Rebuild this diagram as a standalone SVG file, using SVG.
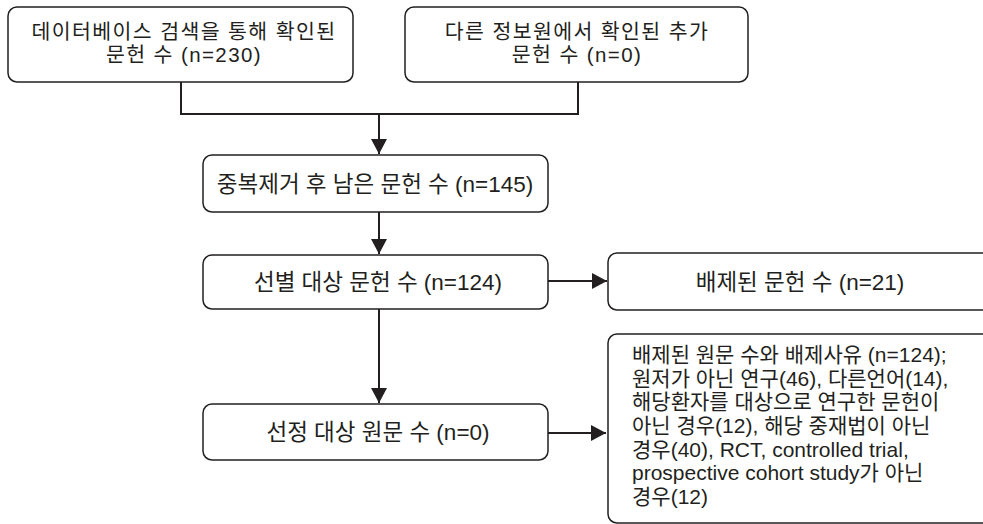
<svg xmlns="http://www.w3.org/2000/svg" width="983" height="524" viewBox="0 0 983 524">
  <defs>
    <marker id="arrow" markerWidth="16" markerHeight="16" refX="15" refY="8" orient="auto" markerUnits="userSpaceOnUse">
      <path d="M0,0 L15,8 L0,16 Z" fill="#231f20"/>
    </marker>
    <style>
      .box { fill: #ffffff; stroke: #231f20; stroke-width: 1.5; }
      .lbl { font-family: "Liberation Sans", "Noto Sans CJK KR", sans-serif; font-size: 22.5px; fill: #231f20; }
      .top { font-size: 20.5px; letter-spacing: 1.4px; }
      .sm { font-size: 21px; }
      .mid { text-anchor: middle; }
      .conn { fill: none; stroke: #231f20; stroke-width: 2; }
    </style>
  </defs>
  <rect width="983" height="524" fill="#ffffff"/>

  <g id="connectors">
    <path class="conn" d="M181,82 V114 H578 V82"/>
    <path class="conn" d="M379,114 V154" marker-end="url(#arrow)"/>
    <path class="conn" d="M379,212 V254" marker-end="url(#arrow)"/>
    <path class="conn" d="M379,309 V403" marker-end="url(#arrow)"/>
    <path class="conn" d="M548,281 H607" marker-end="url(#arrow)"/>
    <path class="conn" d="M548,433 H606" marker-end="url(#arrow)"/>
  </g>

  <g id="db-search">
    <rect class="box" x="8" y="7" width="345" height="75" rx="9"/>
    <text class="lbl top mid" x="184" y="39">데이터베이스 검색을 통해 확인된</text>
    <text class="lbl top mid" x="184" y="62">문헌 수 (n=230)</text>
  </g>

  <g id="other-sources">
    <rect class="box" x="405" y="7" width="343" height="75" rx="9"/>
    <text class="lbl top mid" x="577" y="39">다른 정보원에서 확인된 추가</text>
    <text class="lbl top mid" x="577" y="62">문헌 수 (n=0)</text>
  </g>

  <g id="dedup">
    <rect class="box" x="203" y="155" width="345" height="57" rx="9"/>
    <text class="lbl mid" x="375" y="192">중복제거 후 남은 문헌 수 (n=145)</text>
  </g>

  <g id="screened">
    <rect class="box" x="203" y="255" width="345" height="54" rx="9"/>
    <text class="lbl mid" x="378" y="290">선별 대상 문헌 수 (n=124)</text>
  </g>

  <g id="excluded">
    <rect class="box" x="608" y="253" width="390" height="57" rx="9"/>
    <text class="lbl mid" x="800" y="290">배제된 문헌 수 (n=21)</text>
  </g>

  <g id="selected">
    <rect class="box" x="203" y="404" width="345" height="56" rx="9"/>
    <text class="lbl mid" x="378" y="440">선정 대상 원문 수 (n=0)</text>
  </g>

  <g id="exclusion-reasons">
    <rect class="box" x="608" y="334" width="390" height="189" rx="9"/>
    <text class="lbl sm" x="632" y="362">배제된 원문 수와 배제사유 (n=124);</text>
    <text class="lbl sm" x="632" y="386">원저가 아닌 연구(46), 다른언어(14),</text>
    <text class="lbl sm" x="632" y="409">해당환자를 대상으로 연구한 문헌이</text>
    <text class="lbl sm" x="632" y="433">아닌 경우(12), 해당 중재법이 아닌</text>
    <text class="lbl sm" x="632" y="457">경우(40), RCT, controlled trial,</text>
    <text class="lbl sm" x="632" y="480">prospective cohort study가 아닌</text>
    <text class="lbl sm" x="632" y="504">경우(12)</text>
  </g>
</svg>
